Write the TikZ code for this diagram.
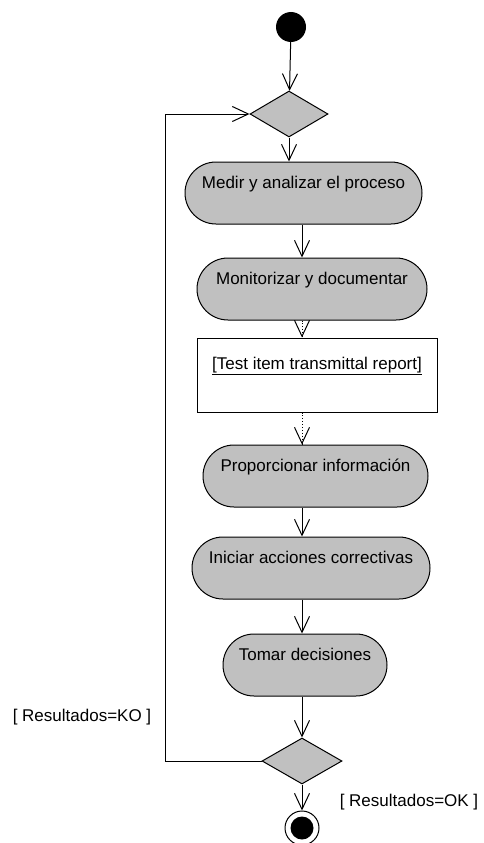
\documentclass[tikz,border=0pt]{standalone}
\usepackage{fontspec}
\setmainfont{Liberation Sans}
\usetikzlibrary{arrows.meta,shapes.geometric}
\definecolor{actgray}{RGB}{192,192,192}
\begin{document}
\begin{tikzpicture}[x=1pt,y=-1pt,
  font=\fontsize{17}{20}\selectfont,
  flow/.style={draw=black,line width=1pt,-{Straight Barb[length=16pt,width=15pt,line width=1pt]}},
  objline/.style={draw=black,line width=0.9pt,dotted},
  action/.style={draw=black,line width=1pt,fill=actgray,rectangle,rounded corners=31pt,
    minimum height=62pt,inner xsep=0pt,inner ysep=0pt,text height=26pt,text depth=36pt},
  decision/.style={draw=black,line width=1pt,fill=actgray,diamond,inner sep=0pt},
  objbox/.style={draw=black,line width=1pt,fill=white,rectangle,minimum width=240pt,
    inner xsep=0pt,inner ysep=0pt,text height=31pt,text depth=43pt},
  guard/.style={inner sep=0pt}]
\useasboundingbox (0,0) rectangle (483,843);

% initial and final states
\node[circle,fill=black,minimum size=30pt,inner sep=0pt] (start) at (291,27) {};
\node[circle,draw=black,line width=1pt,minimum size=34pt,inner sep=0pt] (stop) at (302,828) {};
\node[circle,fill=black,minimum size=23pt,inner sep=0pt] (stopdot) at (302,828) {};

% decisions
\node[decision,minimum width=78pt,minimum height=46pt] (d1) at (289,114) {};
\node[decision,minimum width=80pt,minimum height=46pt] (d2) at (302,761) {};

% actions
\node[action,minimum width=237pt] (med) at (303.5,193) {Medir y analizar el proceso};
\node[action,minimum width=230pt] (mon) at (312,289) {Monitorizar y documentar};
\node[objbox] (rep) at (317,375) {\underline{[Test item transmittal report]}};
\node[action,minimum width=225pt] (pro) at (315.5,476) {Proporcionar información};
\node[action,minimum width=238pt] (ini) at (311,568) {Iniciar acciones correctivas};
\node[action,minimum width=164pt] (tom) at (305,665) {Tomar decisiones};

% guards
\node[guard] (ko) at (82,717) {[ Resultados=KO ]};
\node[guard] (ok) at (409,802) {[ Resultados=OK ]};

% column of the main flow and the return path
\coordinate (col) at (302,0);
\coordinate (back) at (165,0);

\draw[flow] (start) -- (d1);
\draw[flow] (d1.south) -- (d1.south |- med.north);
\draw[flow] (med.south -| col) -- (mon.north -| col);
% object flows: dotted line, solid barb
\draw[objline] (mon.south -| col) -- (rep.north -| col);
\draw[flow] ([yshift=1pt]rep.north -| col) -- (rep.north -| col);
\draw[objline] (rep.south -| col) -- (pro.north -| col);
\draw[flow] ([yshift=1pt]pro.north -| col) -- (pro.north -| col);
\draw[flow] (pro.south -| col) -- (ini.north -| col);
\draw[flow] (ini.south -| col) -- (tom.north -| col);
\draw[flow] (tom.south -| col) -- (d2.north);
\draw[flow] (d2.south) -- (stop.north);
% return path from the lower decision
\draw[flow] (d2.west) -- (d2.west -| back) -- (d1.west -| back) -- (d1.west);
\end{tikzpicture}
\end{document}
